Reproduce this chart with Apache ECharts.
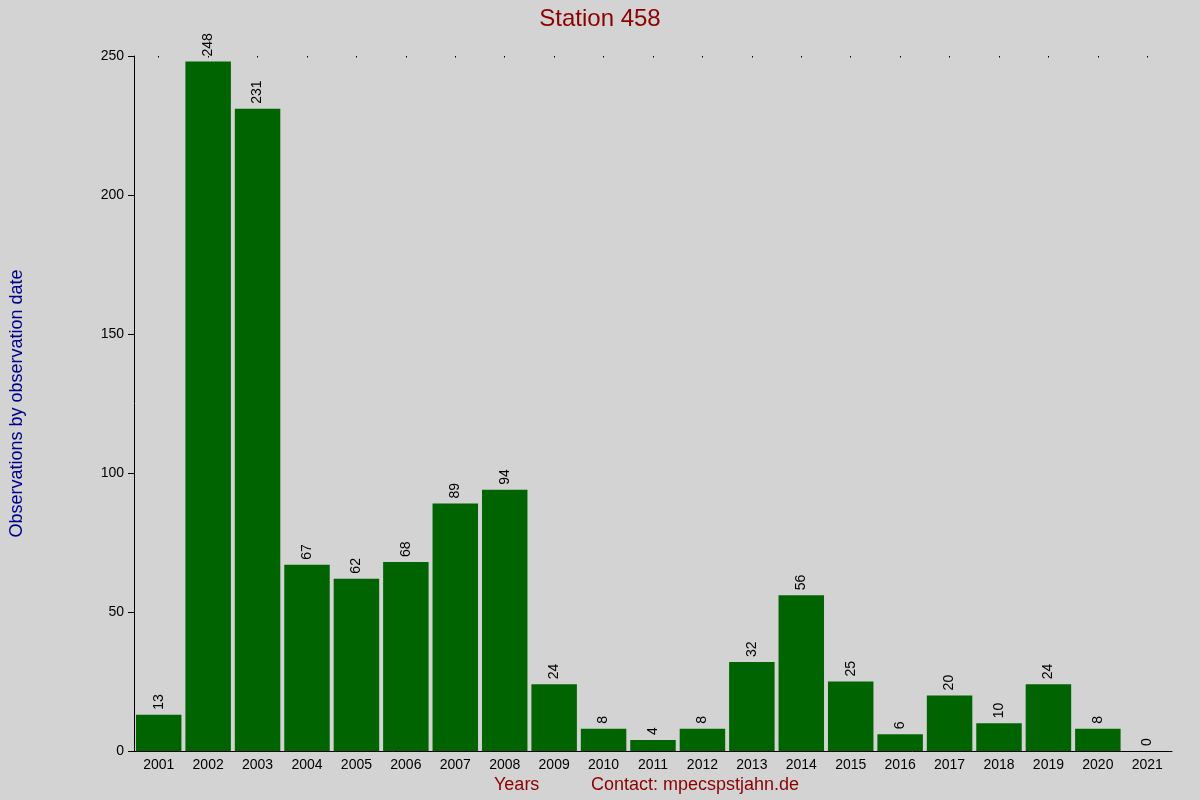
<!DOCTYPE html>
<html><head><meta charset="utf-8">
<script src="https://cdn.jsdelivr.net/npm/echarts@6/dist/echarts.min.js"></script>
<style>html,body{margin:0;padding:0;background:#d3d3d3}#c{width:1200px;height:800px}</style>
</head><body><div id="c"></div>
<script>
const years = ['2001','2002','2003','2004','2005','2006','2007','2008','2009','2010','2011','2012','2013','2014','2015','2016','2017','2018','2019','2020','2021'];
const counts = [13,248,231,67,62,68,89,94,24,8,4,8,32,56,25,6,20,10,24,8,0];
const yTicks = [0,50,100,150,200,250];
const chart = echarts.init(document.getElementById('c'));
chart.setOption({
  backgroundColor:'#d3d3d3',
  animation:false,
  title:{text:'Station 458',left:'center',top:2,textStyle:{color:'#8b0000',fontSize:24,fontWeight:'normal',fontFamily:'Liberation Sans'}},
  grid:{left:126,right:28,top:56,bottom:49},
  xAxis:[{type:'category',data:years,axisLine:{lineStyle:{color:'#000'}},axisTick:{show:false},
    axisLabel:{color:'#000',fontSize:14,fontFamily:'Liberation Sans',margin:7}},
    {type:'category',data:years,position:'top',axisLine:{show:false},axisTick:{show:true,alignWithLabel:true,length:-1.5,lineStyle:{color:'#000',width:1}},axisLabel:{show:false}}],
  yAxis:{type:'value',min:yTicks[0],max:yTicks[yTicks.length-1],interval:50,
    axisLine:{show:true,lineStyle:{color:'#000'}},axisTick:{show:true,length:6,lineStyle:{color:'#000'}},
    splitLine:{show:false},axisLabel:{color:'#000',fontSize:14,fontFamily:'Liberation Sans',margin:10},
    name:'Observations by observation date',nameLocation:'middle',nameGap:108,nameRotate:90,
    nameTextStyle:{color:'#00008b',fontSize:18,fontFamily:'Liberation Sans'}},
  series:[{type:'bar',data:counts,barCategoryGap:'8%',itemStyle:{color:'#006400'},
    label:{show:true,position:'top',rotate:90,align:'left',verticalAlign:'middle',distance:5,color:'#000',fontSize:14,fontFamily:'Liberation Sans'}}],
  graphic:[
    {type:'text',left:494,top:776,style:{text:'Years',fill:'#8b0000',fontSize:18,fontFamily:'Liberation Sans'}},
    {type:'text',left:591,top:776,style:{text:'Contact: mpecspstjahn.de',fill:'#8b0000',fontSize:18,fontFamily:'Liberation Sans'}}
  ]
});
</script></body></html>
